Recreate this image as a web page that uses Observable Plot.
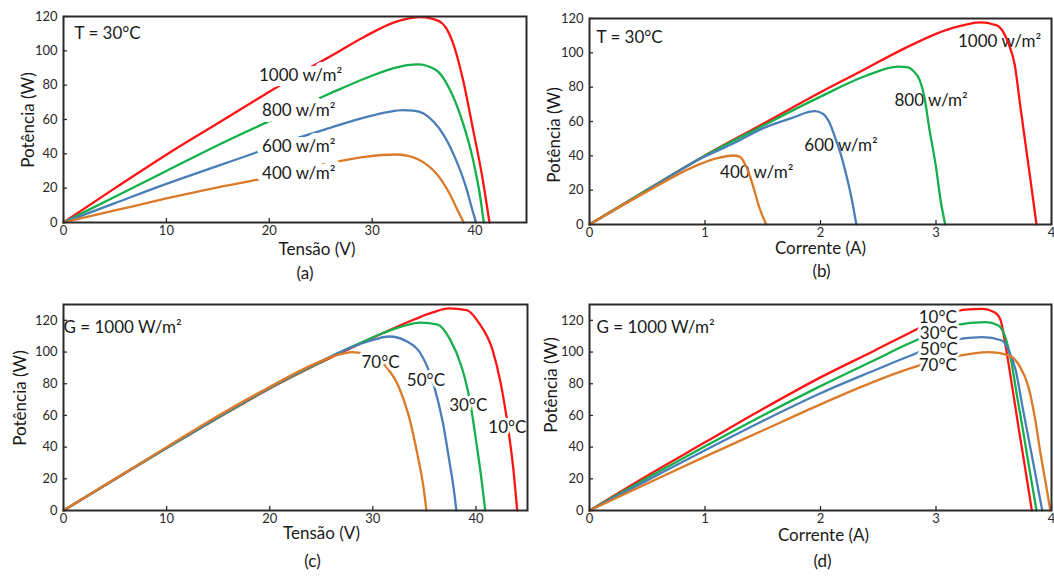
<!DOCTYPE html>
<html><head><meta charset="utf-8">
<script src="https://cdn.jsdelivr.net/npm/d3@7"></script>
<script src="https://cdn.jsdelivr.net/npm/@observablehq/plot@0.6"></script>
<style>
html,body{margin:0;padding:0;background:#fff;}
#wrap{position:relative;width:1054px;height:578px;overflow:hidden;background:#fff;}
.panel{position:absolute;}
.ytitle{position:absolute;transform:translate(-50%,-50%) rotate(-90deg);white-space:nowrap;font:17px Lato,'Open Sans',sans-serif;color:#1a1a1a;line-height:1;}
</style></head><body><div id="wrap"></div>
<script>
// ---------- data ----------
const colors = ["#ff1414", "#13b04c", "#4a7eb9", "#dc7a27"];
const irradianceNames = ["1000 w/m²", "800 w/m²", "600 w/m²", "400 w/m²"];
const temperatureNames = ["10°C", "30°C", "50°C", "70°C"];
const voltageTicks = [0, 10, 20, 30, 40];
const currentTicks = [0, 1, 2, 3, 4];
const powerTicks = [0, 20, 40, 60, 80, 100, 120];
const yTitle = "Potência (W)";

// (a) Potência x Tensão, T = 30°C
const a1000 = [[0,0],[5,20],[10,39.5],[15,57.8],[19,72.5],[23.6,89],[26,97],[29.3,108.4],[32.5,117.3],[34.7,119.6],[36.5,117.3],[37.8,105.5],[38.8,83.9],[39.8,54.4],[40.75,24.9],[41.4,0]];
const a800  = [[0,0],[5,15],[10,30],[15,45],[20.9,61.5],[22.9,67],[26,75.4],[29.3,83.9],[32.6,90.7],[34.4,92.1],[36.2,88.8],[37.5,78],[38.8,58.3],[39.8,36.7],[40.5,15],[40.85,0]];
const a600  = [[0,0],[5,11.3],[10,22.5],[15,33],[18.6,40.5],[21.6,47],[26,55.3],[29.3,61.3],[31.5,64.3],[33,65.5],[34,65.2],[35,63.5],[36,58.5],[37,50.5],[38,38.5],[39.1,21],[39.8,6],[40.1,0]];
const a400  = [[0,0],[5,7],[10,14],[15,20.5],[18.6,24.7],[22.2,29.6],[26,34.7],[29.3,38.2],[32.2,39.6],[33.5,38.8],[34.5,36.7],[35.4,33.3],[36.2,28.8],[37.5,17],[38.4,6],[38.9,0]];
const aLabelX = [19.0, 19.3, 19.3, 19.3];
const aLabelY = [85.4, 65.3, 44.1, 28.5];

// (b) Potência x Corrente, T = 30°C
const b1000 = [[0,0],[0.5,20.3],[1,40.2],[1.5,58.5],[2,77],[2.4,91],[2.68,101],[3.12,114],[3.39,117.8],[3.5,116.5],[3.55,115],[3.6,110],[3.63,105],[3.68,93.6],[3.73,69],[3.78,44.5],[3.83,20],[3.87,0]];
const b800  = [[0,0],[0.5,20.2],[1,40],[1.5,57.5],[2,74.5],[2.4,86.8],[2.67,92],[2.76,91.5],[2.8,89.7],[2.86,83.9],[2.9,74.1],[2.94,56.7],[3.0,33.4],[3.04,14],[3.08,0]];
const b600  = [[0,0],[0.5,19.8],[0.96,38.3],[1.24,47],[1.5,56],[1.75,62],[1.95,66],[2.02,64.5],[2.08,59],[2.13,50],[2.18,40],[2.23,27],[2.27,15],[2.31,0]];
const b400  = [[0,0],[0.5,19.3],[0.96,35.3],[1.1,38.5],[1.24,40.2],[1.3,39.5],[1.34,36],[1.38,30],[1.42,21.5],[1.47,10],[1.53,0]];
const bLabelX = [3.19, 2.64, 1.86, 1.13];
const bLabelY = [106.4, 72.4, 45.8, 30.3];

// (c) Potência x Tensão, G = 1000 W/m²
const c10 = [[0,0],[5,19.7],[10,39.4],[15,58.5],[20,77],[24.5,92],[27.7,102],[31,112],[34,120.5],[35.8,125],[37.4,127.5],[39.1,126.5],[40.3,118.3],[41.6,101.5],[42.4,80.4],[43.1,53],[43.6,27.8],[44.0,0]];
const c30 = [[0,0],[5,19.8],[10,39.5],[15,58.7],[20,77.3],[24.5,92.3],[27.7,102.5],[31,112],[33,116.5],[34.6,118.5],[36.3,117.3],[37.5,107.8],[38.6,90.9],[39.4,69.9],[40.0,44.6],[40.5,21.5],[40.9,0]];
const c50 = [[0,0],[5,19.9],[10,39.6],[15,59],[20,77.6],[24.5,92.6],[27.7,102.5],[29.6,106.8],[31.6,109.8],[33.3,106.7],[34.6,99.4],[35.9,79.4],[36.8,55.2],[37.4,32],[37.9,11],[38.1,0]];
const c70 = [[0,0],[5,20],[10,40],[15,59.8],[20,78],[24.5,93],[26.5,98],[28,100],[29.5,98.3],[31.4,89.9],[32.5,78.3],[33.5,59.4],[34.3,36.2],[34.9,15.2],[35.2,0]];
const cLabelX = [41.2, 37.4, 33.3, 28.9];
const cLabelY = [52.4, 66, 81.8, 93.1];

// (d) Potência x Corrente, G = 1000 W/m²
const d10 = [[0,0],[0.5,22],[1,43],[1.5,64],[2,84],[2.47,101],[2.77,112],[3.13,124.5],[3.25,126.8],[3.4,127.3],[3.51,125],[3.56,120],[3.6,105],[3.66,78],[3.72,50],[3.78,23],[3.83,0]];
const d30 = [[0,0],[0.5,20.5],[1,40.5],[1.5,60],[2,78.5],[2.47,95],[2.77,105.5],[3.16,116.8],[3.43,118.9],[3.54,116.8],[3.6,109.4],[3.65,94.8],[3.7,73],[3.75,52],[3.8,30],[3.85,8.6],[3.87,0]];
const d50 = [[0,0],[0.5,19],[1,38],[1.5,56.5],[2,74],[2.47,88.5],[2.77,97.5],[3.16,107.8],[3.4,109.4],[3.57,107.3],[3.63,101],[3.69,88.5],[3.75,65],[3.8,46],[3.85,27],[3.89,11.5],[3.92,0]];
const d70 = [[0,0],[0.5,17],[1,34],[1.5,50.5],[2,67],[2.47,81.5],[2.77,89.5],[3.14,96.9],[3.46,100],[3.63,97.9],[3.72,91.6],[3.8,78],[3.86,57],[3.9,38.2],[3.95,17.2],[3.99,0]];
const dLabelX = [2.85, 2.86, 2.86, 2.85];
const dLabelY = [121.7, 111.6, 101.7, 91.7];

// ---------- drawing ----------
const FONT = "Lato, 'Open Sans', sans-serif";
const wrap = document.getElementById("wrap");

function rowsOf(series, names) {
  return series.flatMap((pts, i) => pts.map(([x, y]) => ({x, y, name: names[i], color: colors[i]})));
}
function labelsOf(names, xs, ys) {
  return names.map((t, i) => ({x: xs[i], y: ys[i], text: t}));
}

function panel(cfg) {
  const [mt, mr, mb, ml] = cfg.m;
  const plotW = cfg.width - ml - mr, plotH = cfg.height - mt - mb;
  const rows = rowsOf(cfg.series, cfg.names);
  const labels = labelsOf(cfg.names, cfg.lx, cfg.ly);
  const labelMark = Plot.text(labels, {
    x: "x", y: "y", text: "text", textAnchor: "start", fontSize: 17, fill: "#1a1a1a",
    ...(cfg.halo ? {stroke: "white", strokeWidth: cfg.halo} : {})
  });
  const lineMark = Plot.line(rows, {x: "x", y: "y", z: "name", stroke: "color", strokeWidth: 2.3, curve: "monotone-x"});
  const svg = Plot.plot({
    width: cfg.width, height: cfg.height,
    marginTop: mt, marginRight: mr, marginBottom: mb, marginLeft: ml,
    x: {domain: cfg.xDomain},
    y: {domain: cfg.yDomain},
    color: {type: "identity"},
    style: {fontFamily: FONT, fontSize: "13px", color: "#2a2a2a", background: "transparent", overflow: "visible"},
    marks: [
      Plot.axisX(cfg.xTicks, {tickSize: 0, tickPadding: 3, label: null, fontSize: 13, tickFormat: d => String(d)}),
      Plot.axisY(powerTicks, {tickSize: 0, tickPadding: 6, label: null, fontSize: 13, tickFormat: d => String(d)}),
      Plot.tickX(cfg.xTicks, {x: d => d, stroke: "#2a2a2a", strokeWidth: 1.3, insetTop: plotH - 4}),
      Plot.tickY(powerTicks, {y: d => d, stroke: "#2a2a2a", strokeWidth: 1.3, insetRight: plotW - 4}),
      ...(cfg.halo ? [lineMark, labelMark] : [labelMark, lineMark]),
      Plot.frame({stroke: "#2a2a2a", strokeWidth: 2}),
      Plot.text([cfg.note], {text: d => d, frameAnchor: "top-left", textAnchor: "start", dx: cfg.noteOff[0], dy: cfg.noteOff[1], fontSize: 17, fill: "#1a1a1a"}),
      Plot.text([cfg.xTitle], {text: d => d, frameAnchor: "bottom", textAnchor: "middle", dx: cfg.xTitleOff[0], dy: cfg.xTitleOff[1], fontSize: 17, fill: "#1a1a1a"}),
      Plot.text([cfg.caption], {text: d => d, frameAnchor: "bottom", textAnchor: "middle", dx: cfg.capOff[0], dy: cfg.capOff[1], fontSize: 17, fill: "#1a1a1a"})
    ]
  });
  const div = document.createElement("div");
  div.className = "panel";
  div.style.left = cfg.left + "px";
  div.style.top = cfg.top + "px";
  div.appendChild(svg);
  wrap.appendChild(div);
  // vertical axis title, centred at the given point
  const t = document.createElement("div");
  t.className = "ytitle";
  t.textContent = yTitle;
  t.style.left = cfg.yTitleAt[0] + "px";
  t.style.top = cfg.yTitleAt[1] + "px";
  wrap.appendChild(t);
}

panel({
  left: 0, top: 0, width: 527, height: 290, m: [16, 1, 68, 63],
  series: [a1000, a800, a600, a400], names: irradianceNames, lx: aLabelX, ly: aLabelY, halo: 12,
  xDomain: [0, 45], yDomain: [0, 120], xTicks: voltageTicks,
  note: "T = 30°C", noteOff: [11, 10],
  xTitle: "Tensão (V)", xTitleOff: [22, 32], caption: "(a)", capOff: [10, 56], yTitleAt: [27, 120]
});
panel({
  left: 527, top: 0, width: 527, height: 290, m: [18, 3, 66, 62],
  series: [b1000, b800, b600, b400], names: irradianceNames, lx: bLabelX, ly: bLabelY, halo: 0,
  xDomain: [0, 4], yDomain: [0, 120], xTicks: currentTicks,
  note: "T = 30°C", noteOff: [7, 12.5],
  xTitle: "Corrente (A)", xTitleOff: [0, 29], caption: "(b)", capOff: [1, 52], yTitleAt: [553, 135]
});
panel({
  left: 0, top: 290, width: 527, height: 288, m: [14, 0, 68, 63],
  series: [c10, c30, c50, c70], names: temperatureNames, lx: cLabelX, ly: cLabelY, halo: 6,
  xDomain: [0, 45], yDomain: [0, 130], xTicks: voltageTicks,
  note: "G = 1000 W/m²", noteOff: [0, 16.5],
  xTitle: "Tensão (V)", xTitleOff: [26, 28], caption: "(c)", capOff: [17, 56], yTitleAt: [19, 398]
});
panel({
  left: 527, top: 290, width: 527, height: 288, m: [14, 3, 68, 62],
  series: [d10, d30, d50, d70], names: temperatureNames, lx: dLabelX, ly: dLabelY, halo: 6,
  xDomain: [0, 4], yDomain: [0, 130], xTicks: currentTicks,
  note: "G = 1000 W/m²", noteOff: [7, 16.5],
  xTitle: "Corrente (A)", xTitleOff: [3, 30], caption: "(d)", capOff: [2, 56], yTitleAt: [550, 385]
});
</script>
</body></html>
